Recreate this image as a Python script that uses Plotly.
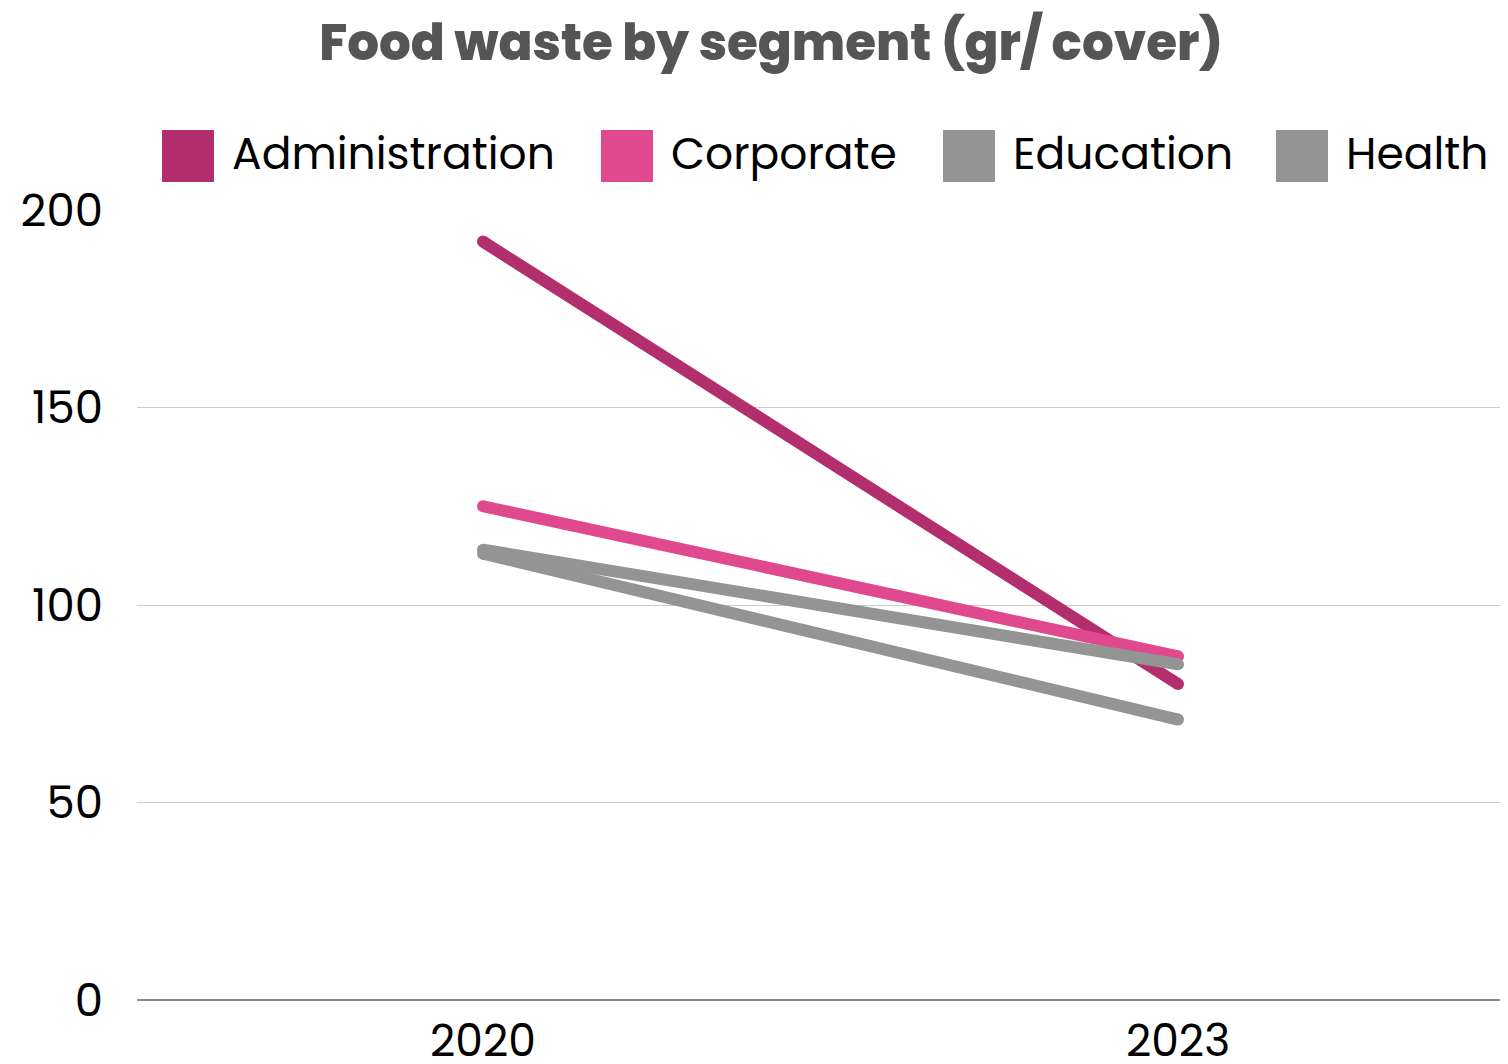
import plotly.graph_objects as go

years = ["2020", "2023"]
segments = ["Administration", "Corporate", "Education", "Health"]
administration = [192, 80]
corporate = [125, 87]
education = [114, 85]
health = [113, 71]
colors = ["#B32E6C", "#E1498E", "#949494", "#949494"]
y_ticks = [0, 50, 100, 150, 200]

series = [administration, corporate, education, health]
FONT = "Poppins, Open Sans, sans-serif"

OFF = 8  # page body margin on every side
W, H = 1508 - 2 * OFF, 1064 - 2 * OFF
L, T = 137 - OFF, 210 - OFF
B = H - (1000 - OFF)
PW = W - L
PH = H - T - B

fig = go.Figure()
for name, vals, col in zip(segments, series, colors):
    fig.add_trace(go.Scatter(
        x=years, y=vals, name=name, mode="lines+markers",
        line=dict(color=col, width=12),
        marker=dict(color=col, size=12),
        showlegend=False, hoverinfo="x+y+name",
    ))

# manual legend (large square swatches), positions in page pixels
legend_sq_x = [162, 601, 943, 1276]
for name, col, x0 in zip(segments, colors, legend_sq_x):
    px0 = x0 - OFF
    fig.add_shape(type="rect", xref="paper", yref="paper",
                  x0=(px0 - L) / PW, x1=(px0 + 52 - L) / PW,
                  y0=(T + PH - (182 - OFF)) / PH, y1=(T + PH - (130 - OFF)) / PH,
                  fillcolor=col, line=dict(width=0))
    fig.add_annotation(xref="paper", yref="paper",
                       x=(px0 + 68 - L) / PW, y=(T + PH - (153 - OFF)) / PH,
                       xanchor="left", yanchor="middle", showarrow=False,
                       text=name, font=dict(family=FONT, size=44, color="#000000"))

# category centres at page x 483 and 1178
c0, c1 = 483 - OFF, 1178 - OFF
unit = c1 - c0
x_range = [-(c0 - L) / unit, 1 + (W - c1) / unit]

fig.update_layout(
    width=W, height=H,
    margin=dict(l=L, r=0, t=T, b=B, autoexpand=False),
    paper_bgcolor="white", plot_bgcolor="white",
    title=dict(text="Food waste by segment (gr/ cover)",
               x=(771 - OFF) / W, xanchor="center", xref="container",
               y=1 - (42 - OFF) / H, yanchor="middle", yref="container",
               font=dict(family=FONT, size=50, color="#555555", weight=800)),
    showlegend=False,
    font=dict(family=FONT, color="#000000"),
)
fig.update_xaxes(type="category", range=x_range, showgrid=False, automargin=False,
                 showline=False, ticks="", tickfont=dict(size=44, color="#000000"),
                 ticklabelstandoff=11)
fig.update_yaxes(range=[0, 200], tickvals=y_ticks, showgrid=True, automargin=False,
                 gridcolor="#CCCCCC", gridwidth=1, zeroline=True,
                 zerolinecolor="#888888", zerolinewidth=2, showline=False,
                 ticks="", tickfont=dict(size=45, color="#000000"),
                 ticklabelstandoff=33)

fig.write_html("out.html")
